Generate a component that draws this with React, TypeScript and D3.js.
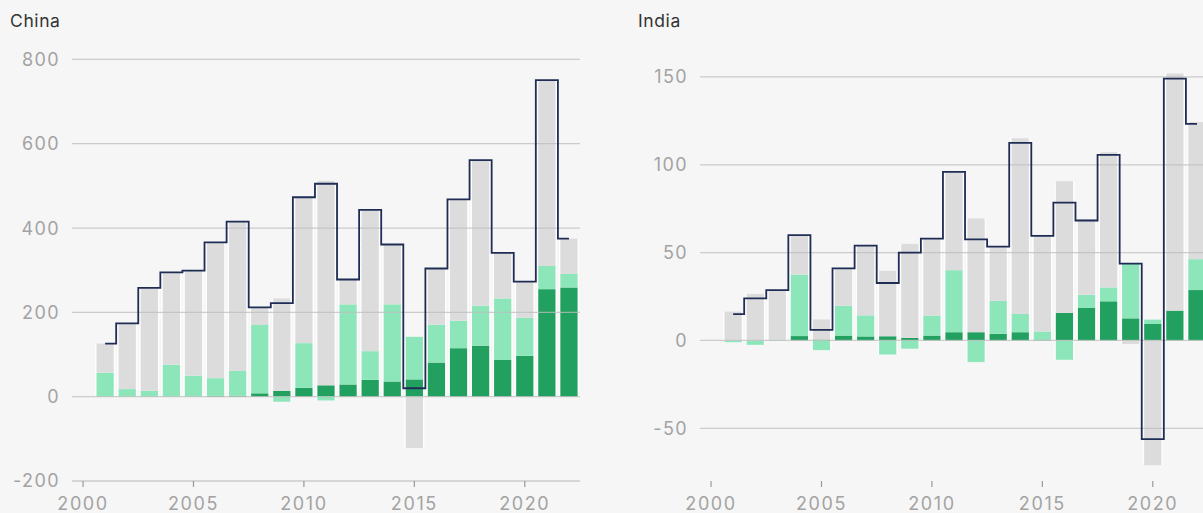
import React from "react";
import * as d3 from "d3";

const years = [2001,2002,2003,2004,2005,2006,2007,2008,2009,2010,2011,2012,2013,2014,2015,2016,2017,2018,2019,2020,2021,2022];

// China (TWh change per year), components
const chinaSolar = [0,0,0,0,0,2,2,8,14,21,27,29,40,36,41,81,115,121,87,97,255,259];
const chinaWind  = [57,18,14,76,50,42,59,162,-12,106,-9,190,68,183,101,90,65,95,146,90,55,32];
const chinaOther = [69,154,243,218,248,322,353,42,219,346,485,59,335,142,-122,133,288,345,108,86,441,84];
const chinaTotal = [126,174,258,295,299,366,415,212,222,473,505,278,443,361,20,304,468,561,341,273,751,375];
const chinaTicks = [-200,0,200,400,600,800];

// India
const indiaSolar = [0,0,0,2.5,0.5,2.8,2.3,2.4,1.5,2.8,4.7,4.7,3.8,4.7,0.5,15.7,18.5,22.3,12.6,9.4,17,28.7];
const indiaWind  = [-1,-2.5,0.5,35,-5.5,17,12,-8,-4.7,11.4,35.3,-12.3,18.8,10.4,4.6,-11,7.5,7.9,31.2,2.5,0,17.6];
const indiaOther = [16.5,26.5,28,22.5,11.5,21.2,39.7,37.2,53.5,44,56,64.8,31,100,55,75,43,77,-2,-71,135,78];
const indiaTotal = [15,24,28.7,60,6,41,54,32.7,50,58,96,57.5,53.4,112.5,59.5,78.5,68.3,105.7,43.8,-56.2,149,123.3];
const indiaTicks = [-50,0,50,100,150];

const xTicks = [2000,2005,2010,2015,2020];

const COLORS = { solar: "#22a060", wind: "#8de6b9", other: "#dcdcdc" };
const FONT = "Inter, 'DejaVu Sans', sans-serif";

type PanelProps = {
  title: string;
  solar: number[];
  wind: number[];
  other: number[];
  total: number[];
  yDomain: [number, number];
  yTicks: number[];
  x0: number;
  axisLine: boolean;
};

function Panel({ title, solar, wind, other, total, yDomain, yTicks, x0, axisLine }: PanelProps) {
  const x = d3.scaleLinear().domain([1999.5, 2022.5]).range([x0, x0 + 508]);
  const y = d3.scaleLinear().domain(yDomain).range([481, 59.4]);
  const step = x(2001) - x(2000);
  const bw = step * 0.78;

  const rows = years.map((yr, i) => ({ year: yr, solar: solar[i], wind: wind[i], other: other[i] }));
  const stack = d3.stack<any>().keys(["solar", "wind", "other"]).offset(d3.stackOffsetDiverging);
  const series = stack(rows);

  const line = d3.line<number>()
    .x((_, i) => x(years[i]))
    .y((d) => y(d))
    .curve(d3.curveStep);

  const extents = rows.map((_, i) => {
    const vals = series.flatMap((s) => [s[i][0], s[i][1]]);
    return [d3.min(vals)!, d3.max(vals)!];
  });

  return (
    <g>
      <text x={x0 - 62} y={27} fontFamily={FONT} fontSize={17.5} letterSpacing={0.6} fill="#333">{title}</text>
      {rows.map((r, i) => (
        <rect key={"h" + i} x={x(r.year) - bw / 2 - 1.5} width={bw + 3}
          y={y(extents[i][1])} height={Math.max(0, y(extents[i][0]) - y(extents[i][1]))} fill="#fdfdfd" />
      ))}
      {series.map((s) => (
        <g key={s.key} fill={(COLORS as any)[s.key]}>
          {s.map((d: any, i: number) => (
            <rect key={i} x={x(years[i]) - bw / 2} width={bw}
              y={y(Math.max(d[0], d[1]))} height={Math.abs(y(d[0]) - y(d[1]))} />
          ))}
        </g>
      ))}
      {yTicks.map((t) => (
        <g key={t}>
          <line x1={x0} x2={x0 + 508} y1={y(t)} y2={y(t)} stroke="#bdbdbd" strokeOpacity={t === yDomain[0] && !axisLine ? 0 : 0.75} strokeWidth={1.3} />
          <text x={x0 - 12} y={y(t)} dy="0.36em" textAnchor="end" fontFamily={FONT} fontSize={18} letterSpacing={1.4} fill="#a3a3a3">{t < 0 ? "-" + Math.abs(t) : t}</text>
        </g>
      ))}
      <path d={line(total) || ""} fill="none" stroke="#1f2d55" strokeWidth={1.8} />
      {xTicks.map((t) => (
        <g key={t}>
          <line x1={x(t)} x2={x(t)} y1={481} y2={487} stroke="#999" strokeWidth={1.2} />
          <text x={x(t)} y={510} textAnchor="middle" fontFamily={FONT} fontSize={18} letterSpacing={1.6} fill="#a3a3a3">{t}</text>
        </g>
      ))}
    </g>
  );
}

export default function App() {
  return (
    <svg width={1203} height={513} style={{ position: "absolute", left: 0, top: 0, display: "block" }}>
      <rect width={1203} height={513} fill="#f6f6f6" />
      <Panel title="China" solar={chinaSolar} wind={chinaWind} other={chinaOther} total={chinaTotal}
        yDomain={[-200, 800]} yTicks={chinaTicks} x0={72} axisLine={true} />
      <Panel title="India" solar={indiaSolar} wind={indiaWind} other={indiaOther} total={indiaTotal}
        yDomain={[-80, 160]} yTicks={indiaTicks} x0={700} axisLine={false} />
    </svg>
  );
}
